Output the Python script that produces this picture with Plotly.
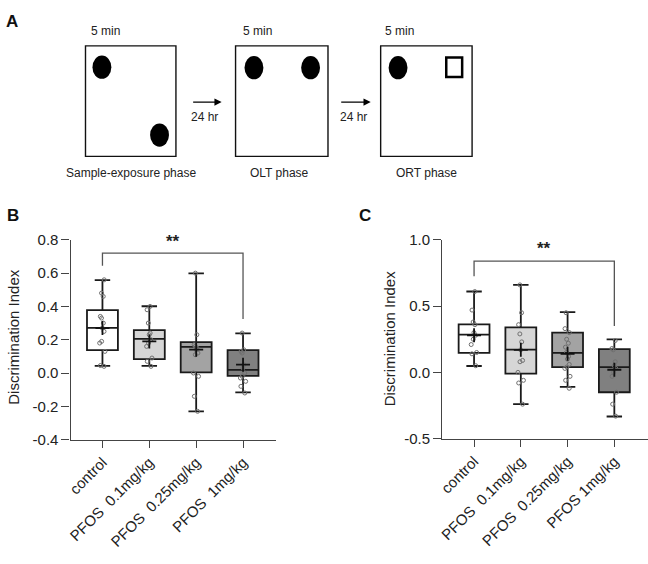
import plotly.graph_objects as go

W, H = 648, 564
FONT = "Arial, Liberation Sans, sans-serif"
TXT = "#222222"
AX = "#444444"

# ---------------- data ----------------
groups_B = ["control", "PFOS\u00a0 0.1mg/kg", "PFOS\u00a0 0.25mg/kg", "PFOS\u00a0 1mg/kg"]
groups_C = ["control", "PFOS\u00a0 0.1mg/kg", "PFOS\u00a0 0.25mg/kg", "PFOS 1mg/kg"]
fills = ["#ffffff", "#d6d6d6", "#a3a3a3", "#808080"]

# Panel B (OLT) box statistics
B_low = [0.043, 0.043, -0.23, -0.116]
B_q1 = [0.138, 0.083, 0.004, -0.017]
B_med = [0.271, 0.205, 0.157, 0.019]
B_q3 = [0.378, 0.258, 0.186, 0.138]
B_up = [0.558, 0.401, 0.599, 0.238]
B_mean = [0.27, 0.19, 0.14, 0.05]
B_pts = [
    [0.56, 0.48, 0.46, 0.34, 0.33, 0.30, 0.27, 0.25, 0.19, 0.18, 0.13, 0.045, 0.04],
    [0.40, 0.38, 0.30, 0.24, 0.23, 0.20, 0.18, 0.16, 0.09, 0.07, 0.04],
    [0.60, 0.23, 0.17, 0.16, 0.15, 0.14, 0.12, 0.11, 0.0, -0.02, -0.14, -0.23],
    [0.24, 0.14, 0.13, 0.12, 0.05, 0.03, 0.0, -0.02, -0.03, -0.05, -0.08, -0.12],
]
B_ticks = [-0.4, -0.2, 0.0, 0.2, 0.4, 0.6, 0.8]
B_ticktext = ["-0.4", "-0.2", "0.0", "0.2", "0.4", "0.6", "0.8"]
B_sig = [0.645, 0.72, 0.325, 0.79]  # left end, top, right end, star height

# Panel C (ORT) box statistics
C_low = [0.048, -0.24, -0.11, -0.333]
C_q1 = [0.147, -0.01, 0.039, -0.15]
C_med = [0.285, 0.172, 0.147, 0.039]
C_q3 = [0.362, 0.34, 0.30, 0.176]
C_up = [0.61, 0.66, 0.454, 0.249]
C_mean = [0.28, 0.17, 0.14, 0.02]
C_pts = [
    [0.61, 0.47, 0.38, 0.36, 0.30, 0.28, 0.25, 0.21, 0.15, 0.14, 0.05],
    [0.66, 0.45, 0.36, 0.29, 0.23, 0.17, 0.09, 0.08, 0.0, -0.06, -0.08, -0.24],
    [0.45, 0.33, 0.30, 0.25, 0.22, 0.19, 0.15, 0.12, 0.10, 0.06, 0.04, 0.03, -0.03, -0.06, -0.12],
    [0.24, 0.18, 0.17, 0.08, 0.05, 0.03, 0.0, -0.03, -0.15, -0.24, -0.33],
]
C_ticks = [-0.5, 0.0, 0.5, 1.0]
C_ticktext = ["-0.5", "0.0", "0.5", "1.0"]
C_sig = [0.725, 0.84, 0.35, 0.935]

fig = go.Figure()


def add_panel(groups, low, q1, med, q3, up, mean, pts, xa, ya):
    for i, g in enumerate(groups):
        fig.add_trace(go.Box(
            x=[g], q1=[q1[i]], median=[med[i]], q3=[q3[i]],
            lowerfence=[low[i]], upperfence=[up[i]],
            width=0.66, whiskerwidth=0.5, fillcolor=fills[i],
            line=dict(color="#1a1a1a", width=1.8), boxpoints=False,
            xaxis=xa, yaxis=ya, showlegend=False, hoverinfo="skip"))
        fig.add_trace(go.Box(
            x=[g] * len(pts[i]), y=pts[i], width=0.66,
            boxpoints="all", jitter=0.22, pointpos=0,
            fillcolor="rgba(0,0,0,0)", line=dict(color="rgba(0,0,0,0)", width=0),
            marker=dict(symbol="circle-open", size=4, color="#707070",
                        line=dict(width=1, color="#707070")),
            xaxis=xa, yaxis=ya, showlegend=False, hoverinfo="skip"))
    fig.add_trace(go.Scatter(
        x=groups, y=mean, mode="markers",
        marker=dict(symbol="cross-thin", size=10, line=dict(width=1.8, color="#111")),
        xaxis=xa, yaxis=ya, showlegend=False, hoverinfo="skip"))


add_panel(groups_B, B_low, B_q1, B_med, B_q3, B_up, B_mean, B_pts, "x", "y")
add_panel(groups_C, C_low, C_q1, C_med, C_q3, C_up, C_mean, C_pts, "x2", "y2")


def px(x):
    return x / W


def py(y):
    return 1 - y / H


common_x = dict(showgrid=False, zeroline=False, showline=True, linecolor=AX, linewidth=1.3,
                ticks="outside", ticklen=7, tickwidth=1.3, tickcolor=AX, tickangle=-45,
                tickfont=dict(family=FONT, size=15, color=TXT), range=[-0.68, 3.71],
                type="category")
common_y = dict(showgrid=False, zeroline=False, showline=True, linecolor=AX, linewidth=1.3,
                ticks="outside", ticklen=8, tickwidth=1.3, tickcolor=AX,
                tickfont=dict(family=FONT, size=15, color=TXT))

fig.update_layout(
    xaxis=dict(common_x, domain=[px(67), px(274)], anchor="y"),
    yaxis=dict(common_y, domain=[py(444), py(238)], range=[-0.4, 0.8],
               tickvals=B_ticks, ticktext=B_ticktext, anchor="x"),
    xaxis2=dict(common_x, domain=[px(441), 1.0], anchor="y2", range=[-0.68, 3.72]),
    yaxis2=dict(common_y, domain=[py(443), py(238)], range=[-0.5, 1.0],
                tickvals=C_ticks, ticktext=C_ticktext, anchor="x2"),
)

shapes = []
annots = []


def label(txt, x, y, size, color=TXT, angle=0):
    annots.append(dict(x=px(x), y=py(y), xref="paper", yref="paper", text=txt,
                       xanchor="center", yanchor="middle", textangle=angle,
                       showarrow=False, font=dict(family=FONT, size=size, color=color)))


# significance brackets
for sig, xr, yr in [(B_sig, "x", "y"), (C_sig, "x2", "y2")]:
    shapes.append(dict(type="path", xref=xr, yref=yr,
                       path=f"M 0,{sig[0]} L 0,{sig[1]} L 3,{sig[1]} L 3,{sig[2]}",
                       line=dict(color="#555", width=1.3)))
    annots.append(dict(x=1.5, y=sig[3], xref=xr, yref=yr, text="<b>**</b>", showarrow=False,
                       xanchor="center", yanchor="middle",
                       font=dict(family=FONT, size=17, color=TXT)))

# y-axis titles
label("Discrimination Index", 10, 338, 15, angle=-90)
label("Discrimination Index", 388, 340, 15, angle=-90)

# panel letters
for lab, x, y in [("A", 8, 13), ("B", 9, 213), ("C", 363, 213)]:
    label(f"<b>{lab}</b>", x, y, 17, color="#111")

# ---------------- panel A schematic ----------------
for x0, x1 in [(82, 173), (233, 326), (379, 471)]:
    shapes.append(dict(type="rect", xref="paper", yref="paper", x0=px(x0), x1=px(x1),
                       y0=py(152), y1=py(38), line=dict(color="#111", width=1.4)))
for cx, cy in [(98.5, 60), (156.5, 130), (251.5, 60.5), (308.5, 60.5), (396.5, 60.5)]:
    shapes.append(dict(type="circle", xref="paper", yref="paper", x0=px(cx - 9.5), x1=px(cx + 9.5),
                       y0=py(cy + 12), y1=py(cy - 12), fillcolor="#000", line=dict(color="#000", width=0)))
shapes.append(dict(type="rect", xref="paper", yref="paper", x0=px(445), x1=px(461),
                   y0=py(70), y1=py(50), line=dict(color="#000", width=2.5)))

for x_tail, x_tip in [(189, 219), (338, 369)]:
    annots.append(dict(x=px(x_tip), y=py(96), ax=-(x_tip - x_tail), ay=0, xref="paper", yref="paper",
                       axref="pixel", ayref="pixel", text="", showarrow=True, arrowhead=2,
                       arrowsize=1.2, arrowwidth=1.2, arrowcolor="#000"))

for txt, x, y in [("5 min", 102, 22.5), ("5 min", 255, 22.5), ("5 min", 398, 22.5),
                  ("24 hr", 202, 111), ("24 hr", 352, 111),
                  ("Sample-exposure phase", 128, 169), ("OLT phase", 277.5, 169),
                  ("ORT phase", 425, 169)]:
    label(txt, x, y, 12)

fig.update_layout(
    width=W, height=H, autosize=False,
    margin=dict(l=0, r=0, t=0, b=0),
    paper_bgcolor="white", plot_bgcolor="white",
    boxmode="overlay", showlegend=False,
    shapes=shapes, annotations=annots,
)

fig.write_html("out.html")
